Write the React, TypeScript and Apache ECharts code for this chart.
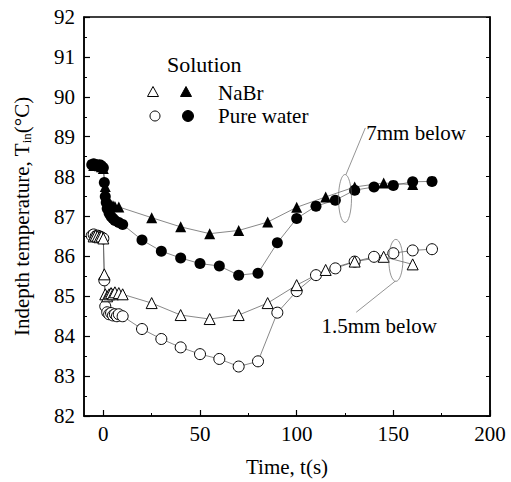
import React, { useEffect, useRef } from "react";
import * as echarts from "echarts";

const FONT = "'Liberation Serif', 'Times New Roman', serif";

const xTickValues = [0, 50, 100, 150, 200];
const xMinorValues = [25, 75, 125, 175];

// Pure water, 7 mm below (filled circles)
const waterDeepT = [-6, -5, -4, -3, -2, -1, 0, 0.5, 1, 1.5, 2, 3, 4, 5, 6, 8, 10, 20, 30, 40, 50, 60, 70, 80, 90, 100, 110, 120, 130, 140, 150, 160, 170];
const waterDeepV = [88.3, 88.32, 88.3, 88.28, 88.3, 88.27, 88.22, 87.85, 87.5, 87.35, 87.2, 87.08, 87.0, 86.95, 86.9, 86.85, 86.8, 86.41, 86.13, 85.96, 85.82, 85.76, 85.53, 85.58, 86.34, 86.95, 87.26, 87.41, 87.66, 87.74, 87.78, 87.87, 87.88];

// NaBr, 7 mm below (filled triangles)
const nabrDeepT = [-5, -4, -3, -2, -1, 0, 1, 2, 3, 4, 5, 6, 8, 25, 40, 55, 70, 85, 100, 115, 130, 145, 160];
const nabrDeepV = [88.28, 88.3, 88.3, 88.27, 88.25, 88.2, 87.75, 87.42, 87.32, 87.28, 87.27, 87.25, 87.24, 86.97, 86.74, 86.57, 86.65, 86.86, 87.23, 87.49, 87.74, 87.84, 87.8];

// Pure water, 1.5 mm below (open circles)
const waterShallowT = [-6, -5, -4, -3, -2, -1, 0, 0.5, 1, 2, 3, 4, 5, 6, 7, 8, 10, 20, 30, 40, 50, 60, 70, 80, 90, 100, 110, 120, 130, 140, 150, 160, 170];
const waterShallowV = [86.52, 86.55, 86.5, 86.52, 86.5, 86.48, 86.45, 85.4, 84.75, 84.6, 84.55, 84.58, 84.52, 84.55, 84.5, 84.55, 84.5, 84.18, 83.93, 83.72, 83.55, 83.43, 83.24, 83.37, 84.59, 85.13, 85.53, 85.7, 85.87, 85.99, 86.08, 86.15, 86.18];

// NaBr, 1.5 mm below (open triangles)
const nabrShallowT = [-5, -4, -3, -2, -1, 0, 0.5, 1, 2, 3, 4, 5, 6, 8, 10, 25, 40, 55, 70, 85, 100, 115, 130, 145, 160];
const nabrShallowV = [86.5, 86.52, 86.5, 86.48, 86.5, 86.45, 85.55, 85.05, 85.0, 85.05, 85.08, 85.05, 85.1, 85.08, 85.05, 84.83, 84.53, 84.43, 84.53, 84.83, 85.28, 85.66, 85.87, 85.99, 85.8];

const pairs = (t: number[], v: number[]) => t.map((x, i) => [x, v[i]]);

export default function App() {
  const ref = useRef<HTMLDivElement>(null);
  useEffect(() => {
    const chart = echarts.init(ref.current!, null, { renderer: "svg" });
    const lineStyle = { color: "#555", width: 0.7 };
    const filled = { color: "#000" };
    const open = { color: "#fff", borderColor: "#000", borderWidth: 1 };
    const txt = { fontFamily: FONT, color: "#000", fontSize: 21 };
    chart.setOption({
      animation: false,
      grid: { left: 84, right: 21, top: 17, bottom: 65, show: true, borderColor: "#000", borderWidth: 1.5, backgroundColor: "transparent" },
      xAxis: [
        {
          type: "value", min: -10, max: 200, position: "bottom",
          axisLine: { show: true, onZero: false, lineStyle: { color: "#000", width: 1.5 } },
          axisTick: { show: true, inside: true, length: 6, customValues: xTickValues, lineStyle: { color: "#000", width: 1.2 } },
          axisLabel: { customValues: xTickValues, ...txt, margin: 7 },
          splitLine: { show: false },
          name: "Time, t(s)", nameLocation: "middle", nameGap: 40, nameTextStyle: { ...txt },
        },
        {
          type: "value", min: -10, max: 200, position: "bottom",
          axisLine: { show: false, onZero: false },
          axisTick: { show: true, inside: true, length: 3, customValues: xMinorValues, lineStyle: { color: "#000", width: 1 } },
          axisLabel: { show: false },
          splitLine: { show: false },
        },
      ],
      yAxis: [
        {
          type: "value", min: 82, max: 92, interval: 1, position: "left",
          axisLine: { show: true, onZero: false, lineStyle: { color: "#000", width: 1.5 } },
          axisTick: { show: true, inside: true, length: 6, lineStyle: { color: "#000", width: 1.2 } },
          minorTick: { show: true, splitNumber: 2, length: 3, lineStyle: { color: "#000", width: 1 } },
          axisLabel: { ...txt, margin: 9 },
          splitLine: { show: false },
          name: "Indepth temperature, T{sub|in}(°C)", nameLocation: "middle", nameGap: 51,
          nameTextStyle: { ...txt, rich: { sub: { fontFamily: FONT, fontSize: 13, color: "#000", verticalAlign: "bottom", padding: [10, 0, 0, 0] } } },
        },
        {
          type: "value", min: 82, max: 92, interval: 1, position: "right",
          axisLine: { show: true, onZero: false, lineStyle: { color: "#000", width: 1.5 } },
          axisTick: { show: true, inside: true, length: 4, lineStyle: { color: "#000", width: 1 } },
          axisLabel: { show: false },
          splitLine: { show: false },
        },
      ],
      series: [
        { name: "Pure water 1.5mm", type: "line", data: pairs(waterShallowT, waterShallowV), symbol: "circle", symbolSize: 11, lineStyle, itemStyle: open },
        { name: "NaBr 1.5mm", type: "line", data: pairs(nabrShallowT, nabrShallowV), symbol: "triangle", symbolSize: 11, lineStyle, itemStyle: open },
        { name: "NaBr 7mm", type: "line", data: pairs(nabrDeepT, nabrDeepV), symbol: "triangle", symbolSize: 11, lineStyle, itemStyle: filled },
        { name: "Pure water 7mm", type: "line", data: pairs(waterDeepT, waterDeepV), symbol: "circle", symbolSize: 11, lineStyle, itemStyle: filled },
      ],
    });

    const px = (t: number, v: number) => chart.convertToPixel({ xAxisIndex: 0, yAxisIndex: 0 }, [t, v]) as number[];
    const annStroke = { fill: "none", stroke: "#666", lineWidth: 0.7 };
    const e7 = px(125, 87.45);
    const l7a = px(125.5, 88.05);
    const l7b = px(135.5, 89.22);
    const t7 = px(136, 89.1);
    const e15 = px(151.3, 85.9);
    const l15a = px(151, 85.38);
    const l15b = px(130.8, 84.6);
    const t15 = px(112.8, 84.25);

    const tri = (cx: number, cy: number) => [[cx - 5.5, cy + 4.5], [cx + 5.5, cy + 4.5], [cx, cy - 5.5]];

    chart.setOption({
      graphic: [
        { type: "ellipse", shape: { cx: e7[0], cy: e7[1], rx: 6.5, ry: 24 }, style: annStroke, z: 10 },
        { type: "line", shape: { x1: l7a[0], y1: l7a[1], x2: l7b[0], y2: l7b[1] }, style: annStroke, z: 10 },
        { type: "text", x: t7[0], y: t7[1], style: { text: "7mm below", font: `21px ${FONT}`, fill: "#000", textVerticalAlign: "middle" }, z: 10 },
        { type: "ellipse", shape: { cx: e15[0], cy: e15[1], rx: 7, ry: 21 }, style: annStroke, z: 10 },
        { type: "line", shape: { x1: l15a[0], y1: l15a[1], x2: l15b[0], y2: l15b[1] }, style: annStroke, z: 10 },
        { type: "text", x: t15[0], y: t15[1], style: { text: "1.5mm below", font: `21px ${FONT}`, fill: "#000", textVerticalAlign: "middle" }, z: 10 },
        // legend
        { type: "text", x: 167, y: 64, style: { text: "Solution", font: `22px ${FONT}`, fill: "#000", textVerticalAlign: "middle" }, z: 10 },
        { type: "polygon", shape: { points: tri(153, 92) }, style: { fill: "#fff", stroke: "#000", lineWidth: 1 }, z: 10 },
        { type: "polygon", shape: { points: tri(186, 92) }, style: { fill: "#000", stroke: "#000", lineWidth: 1 }, z: 10 },
        { type: "text", x: 218, y: 93, style: { text: "NaBr", font: `21px ${FONT}`, fill: "#000", textVerticalAlign: "middle" }, z: 10 },
        { type: "circle", shape: { cx: 155, cy: 116, r: 5 }, style: { fill: "#fff", stroke: "#000", lineWidth: 1 }, z: 10 },
        { type: "circle", shape: { cx: 188, cy: 116, r: 5.5 }, style: { fill: "#000", stroke: "#000", lineWidth: 1 }, z: 10 },
        { type: "text", x: 218, y: 116, style: { text: "Pure water", font: `21px ${FONT}`, fill: "#000", textVerticalAlign: "middle" }, z: 10 },
      ],
    });
    return () => chart.dispose();
  }, []);
  return <div ref={ref} style={{ position: "fixed", left: 0, top: 0, width: 511, height: 482, background: "#fff" }} />;
}
